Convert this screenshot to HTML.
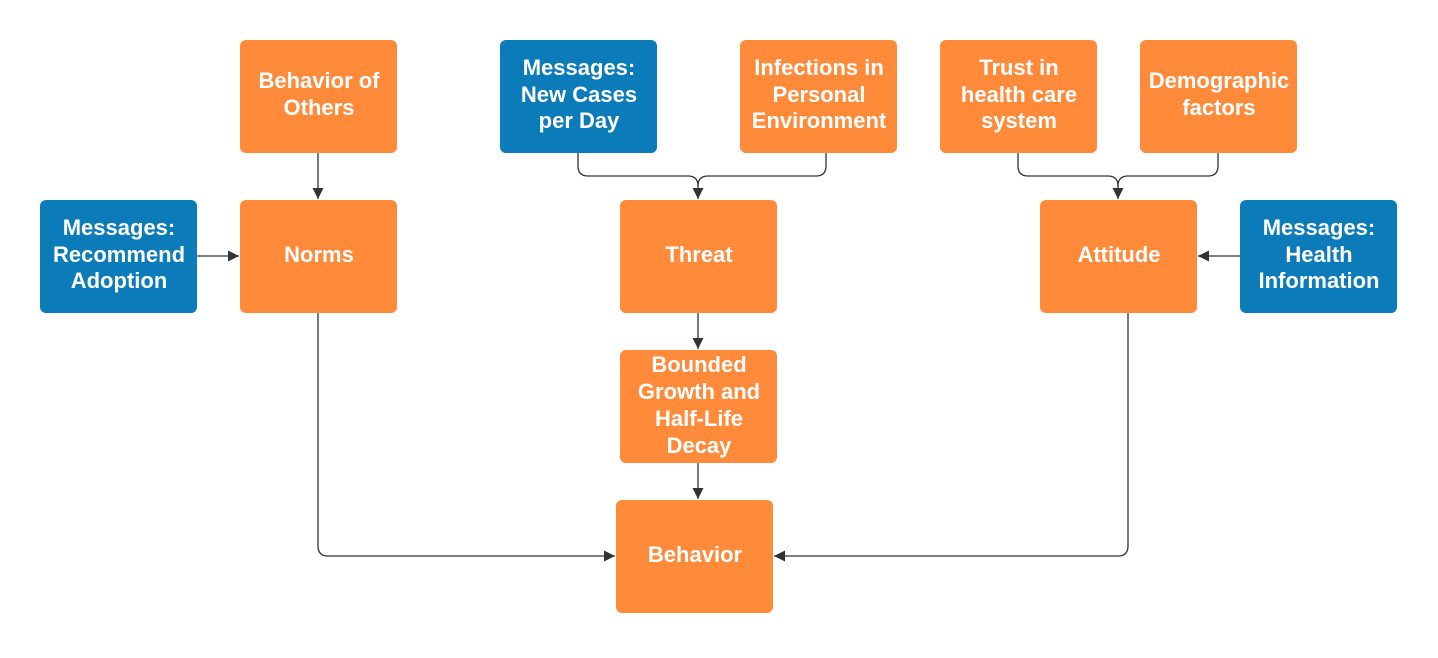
<!DOCTYPE html>
<html><head><style>
html,body{margin:0;padding:0;background:#fff;}
svg text{font-family:"Liberation Sans",Arial,sans-serif;font-weight:bold;font-size:22px;fill:#fff;text-anchor:middle;}
</style></head><body>
<svg width="1438" height="653" viewBox="0 0 1438 653" xmlns="http://www.w3.org/2000/svg">
<defs><marker id="a" markerWidth="12" markerHeight="12" refX="11" refY="5.5" orient="auto" markerUnits="userSpaceOnUse"><path d="M0,0 L11,5.5 L0,11 z" fill="#333"/></marker></defs>
<g fill="#FF8A3A">
<rect x="240" y="40" width="157" height="113" rx="6"/>
<rect x="740" y="40" width="157" height="113" rx="6"/>
<rect x="940" y="40" width="157" height="113" rx="6"/>
<rect x="1140" y="40" width="157" height="113" rx="6"/>
<rect x="240" y="200" width="157" height="113" rx="6"/>
<rect x="620" y="200" width="157" height="113" rx="6"/>
<rect x="1040" y="200" width="157" height="113" rx="6"/>
<rect x="620" y="350" width="157" height="113" rx="6"/>
<rect x="616" y="500" width="157" height="113" rx="6"/>
</g>
<g fill="#0C7BBA">
<rect x="500" y="40" width="157" height="113" rx="6"/>
<rect x="40" y="200" width="157" height="113" rx="6"/>
<rect x="1240" y="200" width="157" height="113" rx="6"/>
</g>
<g stroke="#333" stroke-width="1.3" fill="none">
<path d="M318,153 V199" marker-end="url(#a)"/>
<path d="M197,256 H239" marker-end="url(#a)"/>
<path d="M578,153 V166 Q578,176 588,176 H688 Q698,176 698,186 V199" marker-end="url(#a)"/>
<path d="M826,153 V166 Q826,176 816,176 H708 Q698,176 698,186"/>
<path d="M1018,153 V166 Q1018,176 1028,176 H1108 Q1118,176 1118,186 V199" marker-end="url(#a)"/>
<path d="M1218,153 V166 Q1218,176 1208,176 H1128 Q1118,176 1118,186"/>
<path d="M1240,256 H1198" marker-end="url(#a)"/>
<path d="M698,313 V349" marker-end="url(#a)"/>
<path d="M698,463 V499" marker-end="url(#a)"/>
<path d="M318,313 V546 Q318,556 328,556 H615" marker-end="url(#a)"/>
<path d="M1128,313 V546 Q1128,556 1118,556 H774" marker-end="url(#a)"/>
</g>
<text x="319" y="88">Behavior of</text><text x="319" y="115">Others</text>
<text x="579" y="75">Messages:</text><text x="579" y="102">New Cases</text><text x="579" y="128">per Day</text>
<text x="819" y="75">Infections in</text><text x="819" y="102">Personal</text><text x="819" y="128">Environment</text>
<text x="1019" y="75">Trust in</text><text x="1019" y="102">health care</text><text x="1019" y="128">system</text>
<text x="1219" y="88">Demographic</text><text x="1219" y="115">factors</text>
<text x="119" y="235">Messages:</text><text x="119" y="262">Recommend</text><text x="119" y="288">Adoption</text>
<text x="319" y="262">Norms</text>
<text x="699" y="262">Threat</text>
<text x="1119" y="262">Attitude</text>
<text x="1319" y="235">Messages:</text><text x="1319" y="262">Health</text><text x="1319" y="288">Information</text>
<text x="699" y="372">Bounded</text><text x="699" y="399">Growth and</text><text x="699" y="426">Half-Life</text><text x="699" y="453">Decay</text>
<text x="695" y="562">Behavior</text>
</svg>
</body></html>
